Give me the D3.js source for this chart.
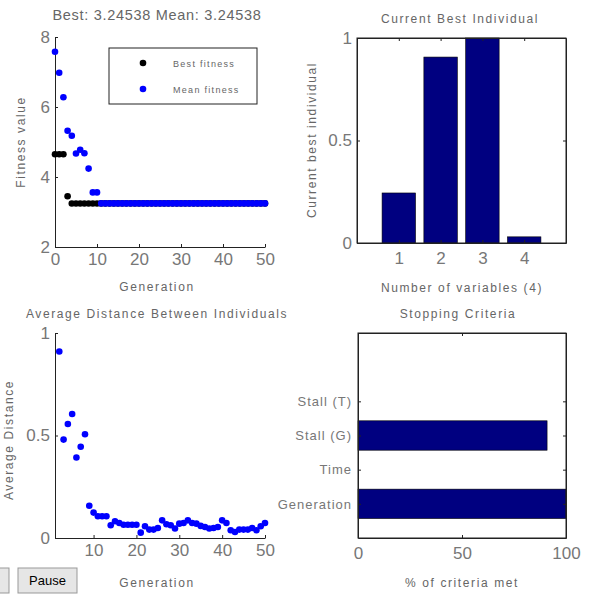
<!DOCTYPE html>
<html>
<head>
<meta charset="utf-8">
<script src="https://cdn.jsdelivr.net/npm/d3@7"></script>
<style>
  body { margin: 0; background: #fff; }
  svg text { font-family: "Liberation Sans", Arial, sans-serif; fill: #666; }
  .tick text { font-size: 17px; fill: #777; }
  .lbl { font-size: 12px; letter-spacing: 1.6px; }
  .axis path, .axis line { stroke: #222; }
</style>
</head>
<body>
<div id="chart"></div>
<script>
// ---- data ----
var generations = d3.range(0, 51);
var bestFitness = [4.65, 4.65, 4.65, 3.45, 3.245, 3.245, 3.245, 3.245, 3.245, 3.245, 3.245]
    .concat(d3.range(11, 51).map(function() { return 3.24538; }));
var meanFitness = [7.58, 6.98, 6.28, 5.32, 5.18, 4.67, 4.78, 4.68, 4.24, 3.56, 3.56]
    .concat(d3.range(11, 51).map(function() { return 3.24538; }));

var distGens = d3.range(2, 51);
var avgDistance = [0.91, 0.48, 0.556, 0.605, 0.393, 0.445, 0.506, 0.157, 0.124, 0.106,
    0.106, 0.106, 0.062, 0.082, 0.073, 0.065, 0.065, 0.065, 0.065, 0.026,
    0.057, 0.041, 0.041, 0.049, 0.086, 0.067, 0.062, 0.046, 0.07, 0.073,
    0.086, 0.073, 0.07, 0.059, 0.054, 0.046, 0.049, 0.054, 0.086, 0.073,
    0.038, 0.029, 0.041, 0.041, 0.041, 0.049, 0.038, 0.057, 0.073];

var variables = [1, 2, 3, 4];
var bestIndividual = [0.244, 0.907, 1.0, 0.03];

var criteria = ["Generation", "Time", "Stall (G)", "Stall (T)"];
var criteriaMet = [100, 0, 90.9, 0];

var navy = "#000080", blue = "#0000ff";
var fmt = function(d) { return String(d); };

var svg = d3.select("#chart").append("svg")
    .attr("width", 589)
    .attr("height", 594);

// helper: axis group, ticks point inward
function axis(a, tr) {
    return svg.append("g").attr("class", "axis").attr("transform", tr).call(a);
}

function box(x, y) {
    var r = x.range(), t = y.range();
    svg.append("rect")
        .attr("x", r[0]).attr("y", t[1])
        .attr("width", r[1] - r[0]).attr("height", t[0] - t[1])
        .attr("fill", "none").attr("stroke", "#222");
}

// ========== panel 1: fitness ==========
var x1 = d3.scaleLinear().domain([0, 50]).range([55, 265]);
var y1 = d3.scaleLinear().domain([2, 8]).range([247, 37]);

axis(d3.axisBottom(x1).tickValues([0, 10, 20, 30, 40, 50]).tickFormat(fmt).tickSizeInner(-3).tickSizeOuter(0).tickPadding(6),
    "translate(0," + y1(2) + ")");
axis(d3.axisLeft(y1).tickValues([2, 4, 6, 8]).tickFormat(fmt).tickSizeInner(-3).tickSizeOuter(0).tickPadding(5),
    "translate(" + x1(0) + ",0)");

svg.append("g").selectAll("circle")
    .data(generations).enter().append("circle")
    .attr("cx", function(d) { return x1(d); })
    .attr("cy", function(d, i) { return y1(bestFitness[i]); })
    .attr("r", 3.3).attr("fill", "#000");

svg.append("g").selectAll("circle")
    .data(generations).enter().append("circle")
    .attr("cx", function(d) { return x1(d); })
    .attr("cy", function(d, i) { return y1(meanFitness[i]); })
    .attr("r", 3.3).attr("fill", blue);

// legend
var leg = svg.append("g");
leg.append("rect").attr("x", 109).attr("y", 48).attr("width", 148).attr("height", 56)
    .attr("fill", "#fff").attr("stroke", "#222");
[["Best fitness", "#000"], ["Mean fitness", blue]].forEach(function(d, i) {
    leg.append("circle").attr("cx", 143).attr("cy", 63 + i * 26).attr("r", 3.3).attr("fill", d[1]);
    leg.append("text").attr("x", 173).attr("y", 67 + i * 26)
        .style("font-size", "9px").style("letter-spacing", "1.3px").text(d[0]);
});

svg.append("text").attr("class", "lbl").attr("x", 157).attr("y", 20)
    .attr("text-anchor", "middle").style("font-size", "14.5px").style("letter-spacing", "0.7px")
    .text("Best: 3.24538 Mean: 3.24538");
svg.append("text").attr("class", "lbl").attr("x", 157).attr("y", 291)
    .attr("text-anchor", "middle").text("Generation");
svg.append("text").attr("class", "lbl")
    .attr("transform", "translate(25,142) rotate(-90)")
    .attr("text-anchor", "middle").text("Fitness value");

// ========== panel 2: current best individual ==========
var x2 = d3.scaleLinear().domain([0, 5]).range([357, 566]);
var y2 = d3.scaleLinear().domain([0, 1]).range([243, 38]);

svg.append("g").selectAll("rect")
    .data(variables).enter().append("rect")
    .attr("x", function(d) { return x2(d - 0.4); })
    .attr("width", x2(0.8) - x2(0))
    .attr("y", function(d, i) { return y2(bestIndividual[i]); })
    .attr("height", function(d, i) { return y2(0) - y2(bestIndividual[i]); })
    .attr("fill", navy).attr("stroke", "#000").attr("stroke-width", 0.6);

box(x2, y2);
axis(d3.axisBottom(x2).tickValues(variables).tickFormat(fmt).tickSizeInner(-3).tickSizeOuter(0).tickPadding(9),
    "translate(0," + y2(0) + ")");
axis(d3.axisTop(x2).tickValues(variables).tickSizeInner(-3).tickSizeOuter(0).tickFormat(""),
    "translate(0," + y2(1) + ")");
axis(d3.axisLeft(y2).tickValues([0, 0.5, 1]).tickFormat(fmt).tickSizeInner(-3).tickSizeOuter(0).tickPadding(5),
    "translate(" + x2(0) + ",0)");
axis(d3.axisRight(y2).tickValues([0, 0.5, 1]).tickSizeInner(-3).tickSizeOuter(0).tickFormat(""),
    "translate(" + x2(5) + ",0)");

svg.append("text").attr("class", "lbl").attr("x", 460).attr("y", 23)
    .attr("text-anchor", "middle").text("Current Best Individual");
svg.append("text").attr("class", "lbl").attr("x", 462).attr("y", 292)
    .attr("text-anchor", "middle").text("Number of variables (4)");
svg.append("text").attr("class", "lbl")
    .attr("transform", "translate(316,140) rotate(-90)")
    .attr("text-anchor", "middle").text("Current best individual");

// ========== panel 3: average distance ==========
var x3 = d3.scaleLinear().domain([1, 50]).range([55, 265]);
var y3 = d3.scaleLinear().domain([0, 1]).range([538, 333]);

axis(d3.axisBottom(x3).tickValues([10, 20, 30, 40, 50]).tickFormat(fmt).tickSizeInner(-3).tickSizeOuter(0).tickPadding(6),
    "translate(0," + y3(0) + ")");
axis(d3.axisLeft(y3).tickValues([0, 0.5, 1]).tickFormat(fmt).tickSizeInner(-3).tickSizeOuter(0).tickPadding(5),
    "translate(" + x3(1) + ",0)");

svg.append("g").selectAll("circle")
    .data(distGens).enter().append("circle")
    .attr("cx", function(d) { return x3(d); })
    .attr("cy", function(d, i) { return y3(avgDistance[i]); })
    .attr("r", 3.3).attr("fill", blue);

svg.append("text").attr("class", "lbl").attr("x", 157).attr("y", 318)
    .attr("text-anchor", "middle").text("Average Distance Between Individuals");
svg.append("text").attr("class", "lbl").attr("x", 157).attr("y", 587)
    .attr("text-anchor", "middle").text("Generation");
svg.append("text").attr("class", "lbl")
    .attr("transform", "translate(13,440) rotate(-90)")
    .attr("text-anchor", "middle").text("Average Distance");

// ========== panel 4: stopping criteria ==========
var x4 = d3.scaleLinear().domain([0, 100]).range([358, 566]);
var y4 = d3.scaleLinear().domain([0, 6]).range([538, 333]);

svg.append("g").selectAll("rect")
    .data(criteria).enter().append("rect")
    .attr("x", x4(0))
    .attr("y", function(d, i) { return y4(i + 1 + 0.43); })
    .attr("height", y4(0) - y4(0.86))
    .attr("width", function(d, i) { return x4(criteriaMet[i]) - x4(0); })
    .attr("fill", navy).attr("stroke", "#000").attr("stroke-width", 0.6);

box(x4, y4);
axis(d3.axisBottom(x4).tickValues([0, 50, 100]).tickFormat(fmt).tickSizeInner(-3).tickSizeOuter(0).tickPadding(9),
    "translate(0," + y4(0) + ")");
axis(d3.axisTop(x4).tickValues([0, 50, 100]).tickSizeInner(-3).tickSizeOuter(0).tickFormat(""),
    "translate(0," + y4(6) + ")");
axis(d3.axisLeft(y4).tickValues([1, 2, 3, 4]).tickSizeInner(-3).tickSizeOuter(0).tickPadding(6)
        .tickFormat(function(d) { return criteria[d - 1]; }),
    "translate(" + x4(0) + ",0)")
    .selectAll(".tick text").style("font-size", "13px").style("letter-spacing", "1px");
axis(d3.axisRight(y4).tickValues([1, 2, 3, 4]).tickSizeInner(-3).tickSizeOuter(0).tickFormat(""),
    "translate(" + x4(100) + ",0)");

svg.append("text").attr("class", "lbl").attr("x", 458).attr("y", 318)
    .attr("text-anchor", "middle").text("Stopping Criteria");
svg.append("text").attr("class", "lbl").attr("x", 462).attr("y", 587)
    .attr("text-anchor", "middle").text("% of criteria met");

// ---- buttons at the bottom ----
var btn = svg.append("g");
btn.append("rect").attr("x", -4).attr("y", 568).attr("width", 13).attr("height", 25)
    .attr("fill", "#e6e6e6").attr("stroke", "#999");
btn.append("rect").attr("x", 18).attr("y", 568).attr("width", 59).attr("height", 25)
    .attr("fill", "#e6e6e6").attr("stroke", "#999");
btn.append("text").attr("x", 47.5).attr("y", 585).attr("text-anchor", "middle")
    .style("font-size", "13px").style("fill", "#000").text("Pause");
</script>
</body>
</html>
